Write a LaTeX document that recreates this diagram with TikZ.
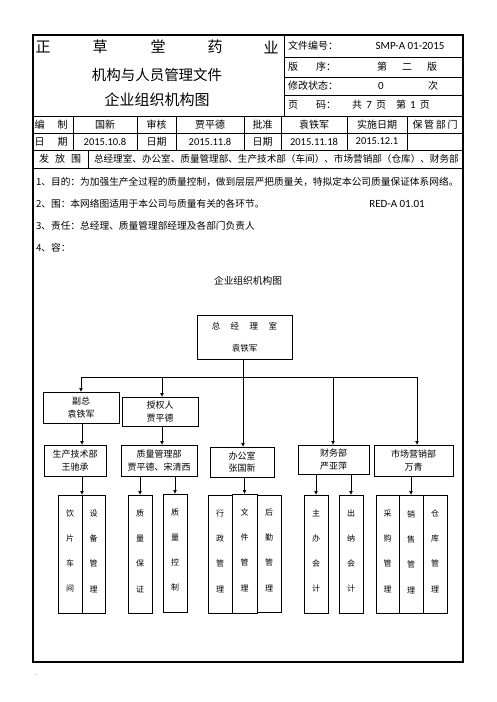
\documentclass[tikz,border=0pt]{standalone}
\usepackage{fontspec}
\setmainfont{Noto Sans CJK SC}
\newfontfamily\lat{Carlito}
\usetikzlibrary{arrows.meta,calc}
\begin{document}
\begin{tikzpicture}[x=1pt,y=-1pt,
  every node/.style={inner sep=0pt, outer sep=0pt},
  frm/.style={line width=1.3pt},
  gridline/.style={line width=1pt},
  orgbox/.style={draw, line width=0.8pt, align=center, font=\fontsize{9}{12.5}\selectfont},
  subbox/.style={draw, line width=0.8pt, minimum height=118pt},
  subtxt/.style={align=center, font=\fontsize{8}{25.3}\selectfont},
  arr/.style={line width=0.8pt, -{Latex[length=4pt,width=4pt]}},
  conn/.style={line width=0.8pt},
  hd/.style={font=\fontsize{10}{12}\selectfont},
  num/.style={font=\lat\fontsize{10.5}{12}\selectfont},
  body/.style={font=\fontsize{9.7}{12}\selectfont, anchor=west},
  ]
\useasboundingbox (0,0) rectangle (496,702);
\fill[white] (0,0) rectangle (496,702);

% ---------- frame and table ----------
\draw[frm] (33,35) rectangle (463,662);
\draw[gridline] (284,35) -- (284,116);
\foreach \yy in {57,77,95} \draw[gridline] (284,\yy) -- (463,\yy);
\foreach \yy in {116,133,150,168} \draw[gridline] (33,\yy) -- (463,\yy);
\foreach \xx in {73,137,176,244,281,347,407} \draw[gridline] (\xx,116) -- (\xx,150);
\draw[gridline] (88,150) -- (88,168);

% title block
\node[font=\fontsize{15}{15}\selectfont] (c1) at (43,47) {正};
\node[font=\fontsize{15}{15}\selectfont] (c2) at (100,47) {草};
\node[font=\fontsize{15}{15}\selectfont] (c3) at (158,47) {堂};
\node[font=\fontsize{15}{15}\selectfont] (c4) at (215,47) {药};
\node[font=\fontsize{15}{15}\selectfont] (c5) at (271,47) {业};
\node[font=\fontsize{14.5}{15}\selectfont] (tt1) at (157,75) {机构与人员管理文件};
\node[font=\fontsize{15}{15}\selectfont] (tt2) at (157,100) {企业组织机构图};

% right header
\node[hd, anchor=west] (h1) at (288,46) {文件编号：};
\node[font=\lat\fontsize{11}{12}\selectfont] (h1v) at (410,46) {SMP-A 01-2015};
\node[hd, anchor=west] (h2) at (288,67) {版\hspace{1.8em}序：};
\node[hd] (h2v) at (407,67) {第\hspace{1.5em}二\hspace{1.5em}版};
\node[hd, anchor=west] (h3) at (288,86) {修改状态：};
\node[font=\lat\fontsize{11}{12}\selectfont] (h3v) at (381,86) {0};
\node[hd] (h3w) at (433,86) {次};
\node[hd, anchor=west] (h4) at (288,105) {页\hspace{1.8em}码：};
\node[hd] (h4v) at (391,105) {共\,{\lat\fontsize{11}{12}\selectfont\ 7\ }\,页\hspace{1em}第\,{\lat\fontsize{11}{12}\selectfont\ 1\ }\,页};

% row 1
\node[hd] (r11) at (51,124.5) {编\hspace{1.3em}制};
\node[hd] (r12) at (105,124.5) {国新};
\node[hd] (r13) at (156.5,124.5) {审核};
\node[hd] (r14) at (210,124.5) {贾平德};
\node[hd] (r15) at (262.5,124.5) {批准};
\node[hd] (r16) at (314,124.5) {袁铁军};
\node[hd] (r17) at (377,124.5) {实施日期};
\node[hd] (r18) at (435,124.5) {保\,管\,部\,门};
% row 2
\node[hd] (r21) at (51,141.5) {日\hspace{1.3em}期};
\node[num] (r22) at (105,141.5) {2015.10.8};
\node[hd] (r23) at (156.5,141.5) {日期};
\node[num] (r24) at (210,141.5) {2015.11.8};
\node[hd] (r25) at (262.5,141.5) {日期};
\node[num] (r26) at (314,141.5) {2015.11.18};
\node[num] (r27) at (377,141.5) {2015.12.1};
% row 3
\node[hd] (r31) at (60,159) {发\hspace{0.6em}放\hspace{0.6em}围};
\node[font=\fontsize{9.6}{12}\selectfont, anchor=west] (r32) at (94,159) {总经理室、办公室、质量管理部、生产技术部（车间）、市场营销部（仓库）、财务部};

% body text
\node[body] (b1) at (36,182) {1、目的：为加强生产全过程的质量控制，做到层层严把质量关，特拟定本公司质量保证体系网络。};
\node[body] (b2) at (36,204) {2、围：本网络图适用于本公司与质量有关的各环节。};
\node[font=\lat\fontsize{11}{12}\selectfont] (b2r) at (397,204) {RED-A 01.01};
\node[body] (b3) at (36,226) {3、责任：总经理、质量管理部经理及各部门负责人};
\node[body] (b4) at (36,248) {4、容：};
\node[font=\fontsize{9.7}{12}\selectfont] (ctitle) at (248,281) {企业组织机构图};

% ---------- org chart ----------
\node[draw, line width=0.8pt, minimum width=95pt, minimum height=44pt, align=center,
      font=\fontsize{8.5}{22}\selectfont] (gm) at (244.5,337)
      {总\hspace{10.5pt}经\hspace{10.5pt}理\hspace{10.5pt}室\\袁铁军};

\node[orgbox, minimum width=76pt, minimum height=31pt] (fz) at (81,407.5) {副总\\袁铁军};
\node[orgbox, minimum width=76pt, minimum height=29pt] (sq) at (160,411.5) {授权人\\贾平德};

\node[orgbox, minimum width=62pt, minimum height=31pt] (sc) at (75,460.5) {生产技术部\\王驰承};
\node[orgbox, minimum width=76pt, minimum height=31pt] (zl) at (159,460.5) {质量管理部\\贾平德、宋清西};
\node[orgbox, minimum width=64pt, minimum height=30pt] (bg) at (242,462) {办公室\\张国新};
\node[orgbox, minimum width=71pt, minimum height=29pt] (cw) at (333.5,459.5) {财务部\\严亚萍};
\node[orgbox, minimum width=79pt, minimum height=31pt] (sy) at (413.5,460.5) {市场营销部\\万青};

\coordinate (j0) at (243,377);
\coordinate (j1) at (81,377);
\coordinate (j2) at (162,377);
\coordinate (j3) at (333,377);
\coordinate (j4) at (417,377);
\draw[conn] (gm.south -| j0) -- (j0);
\draw[conn] (j1) -- (j4);
\draw[arr] (j1) -- (j1 |- fz.north);
\draw[arr] (j2) -- (j2 |- sq.north);
\draw[arr] (j0) -- (j0 |- bg.north);
\draw[arr] (j3) -- (j3 |- cw.north);
\draw[arr] (j4) -- (j4 |- sy.north);

\coordinate (k1) at (82,0);
\coordinate (k2) at (162,0);
\draw[arr] (k1 |- fz.south) -- (k1 |- sc.north);
\draw[arr] (k2 |- sq.south) -- (k2 |- zl.north);

% sub boxes
\node[subbox, minimum width=24pt] (a1) at (70,554) {};
\node[subbox, minimum width=23pt] (a2) at (93.5,554) {};
\node[subbox, minimum width=24pt] (q1) at (140,554) {};
\node[subbox, minimum width=24pt] (q2) at (175,553) {};
\node[subbox, minimum width=24pt] (o1) at (220,554) {};
\node[subbox, minimum width=25pt, minimum height=119pt] (o2) at (244.5,553.5) {};
\node[subbox, minimum width=24pt, minimum height=117pt] (o3) at (269,553.5) {};
\node[subbox, minimum width=24pt] (f1) at (316,554) {};
\node[subbox, minimum width=24pt] (f2) at (351,554) {};
\node[subbox, minimum width=23pt] (m1) at (387.5,554) {};
\node[subbox, minimum width=24pt] (m2) at (411,554) {};
\node[subbox, minimum width=24pt] (m3) at (435,554) {};

\node[subtxt] (a1t) at (70,551) {饮\\片\\车\\间};
\node[subtxt] (a2t) at (93.5,551) {设\\备\\管\\理};
\node[subtxt] (q1t) at (140,551) {质\\量\\保\\证};
\node[subtxt] (q2t) at (175,550) {质\\量\\控\\制};
\node[subtxt] (o1t) at (220,551) {行\\政\\管\\理};
\node[subtxt] (o2t) at (244.5,550) {文\\件\\管\\理};
\node[subtxt] (o3t) at (269,550) {后\\勤\\管\\理};
\node[subtxt] (f1t) at (316,551) {主\\办\\会\\计};
\node[subtxt] (f2t) at (351,551) {出\\纳\\会\\计};
\node[subtxt] (m1t) at (387.5,551) {采\\购\\管\\理};
\node[subtxt] (m2t) at (411,552) {销\\售\\管\\理};
\node[subtxt] (m3t) at (435,551) {仓\\库\\管\\理};

\draw[arr] (a1.north east |- sc.south) -- (a1.north east);
\draw[arr] (q1.north |- zl.south) -- (q1.north);
\draw[arr] (q2.north |- zl.south) -- (q2.north);
\draw[arr] (o2.north |- bg.south) -- (o2.north);
\draw[arr] (f1.north |- cw.south) -- (f1.north);
\draw[arr] (f2.north |- cw.south) -- (f2.north);
\draw[arr] (m2.north |- sy.south) -- (m2.north);

\node[font=\fontsize{6}{6}\selectfont] (dot) at (37,675) {.};
\end{tikzpicture}
\end{document}
